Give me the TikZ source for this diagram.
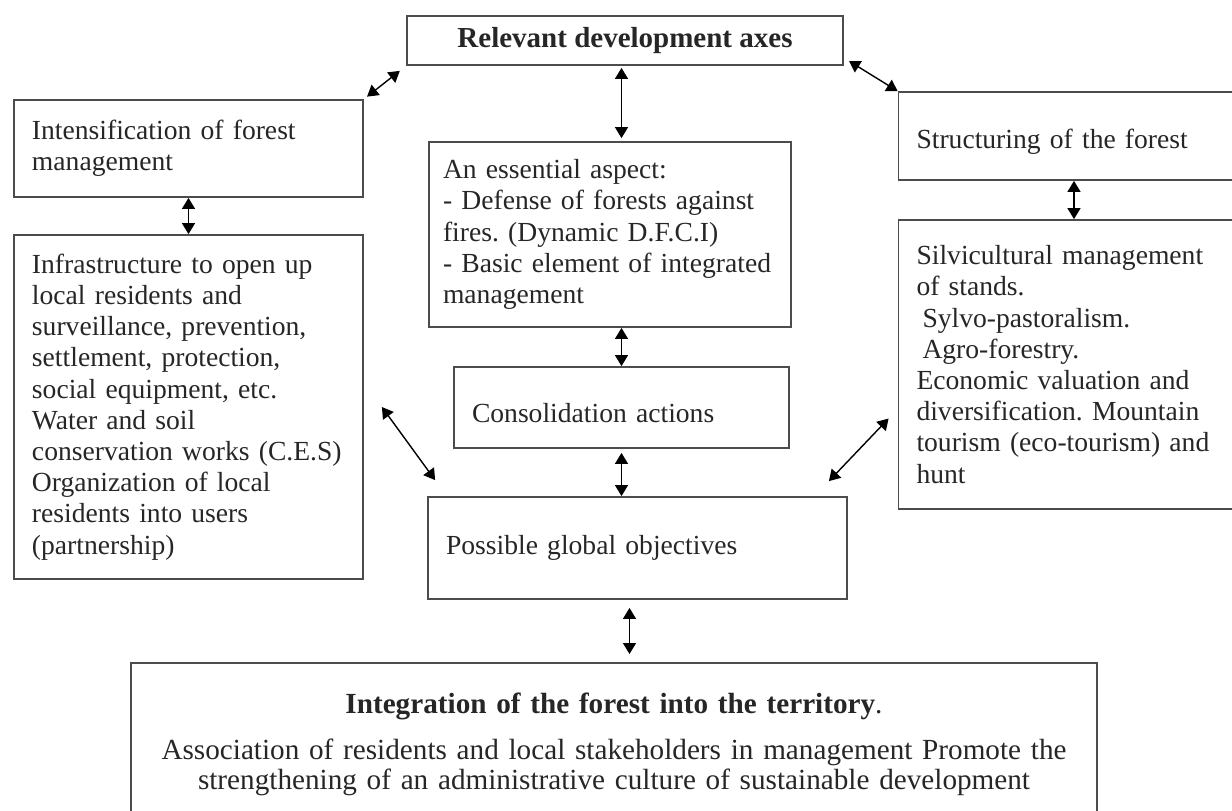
\documentclass[tikz,border=0pt]{standalone}
\usepackage{fontspec}
\setmainfont{Liberation Serif}
\usetikzlibrary{arrows.meta}
\frenchspacing

\begin{document}
\begin{tikzpicture}[
  x=0.5pt, y=-0.5pt,
  font=\fontsize{13.8}{15.6}\selectfont,
  box/.style ={draw=black!70, line width=0.9pt, align=left, inner xsep=9pt, inner ysep=0pt, text=black!85},
  arr/.style ={<->, >={Triangle[length=5.5pt,width=6.5pt]}, line width=0.7pt}
]
\useasboundingbox (0,0) rectangle (1232,810);
\clip (0,0) rectangle (1232,810);

% ---- top: development axes ----
\node[box, align=center, font=\fontsize{14.5}{15.6}\selectfont\bfseries, minimum width=218pt, minimum height=24.5pt] (axes) at (625,40.5)
  {Relevant development axes};

% ---- left column ----
\node[box, text width=156.5pt, minimum height=48.5pt] (inten) at (188.5,148.5)
  {Intensification of forest\\management};
\node[box, text width=156.5pt, minimum height=172pt] (infra) at (188.5,407)
  {Infrastructure to open up\\local residents and\\surveillance, prevention,\\settlement, protection,\\
   social equipment, etc.\\Water and soil\\conservation works (C.E.S)\\Organization of local\\
   residents into users\\(partnership)};

% ---- centre column ----
\node[box, inner xsep=7pt, text width=167pt, minimum height=92.5pt] (aspect) at (610,234.5)
  {An essential aspect:\\- Defense of forests against\\fires. (Dynamic D.F.C.I)\\
   - Basic element of integrated\\management};
\node[box, text width=149.5pt, minimum height=40.5pt] (consol) at (621.5,407.5)
  {\mbox{}\\Consolidation actions};
\node[box, text width=191.5pt, minimum height=51pt] (possib) at (637.5,548)
  {Possible global objectives};

% ---- right column ----
\node[box, text width=157.5pt, minimum height=44pt] (struct) at (1074,136)
  {\mbox{}\\Structuring of the forest};
\node[box, text width=157.5pt, minimum height=144.5pt] (silvi) at (1074,364.5)
  {Silvicultural management\\of stands.\\\hspace*{3pt}Sylvo-pastoralism.\\\hspace*{3pt}Agro-forestry.\\
   Economic valuation and\\diversification. Mountain\\tourism (eco-tourism) and\\hunt};

% ---- bottom: territory ----
\node[box, align=center, font=\fontsize{14.6}{15}\selectfont, text width=465pt, inner ysep=15pt, anchor=north] (integ) at (614,662)
  {\textbf{Integration of the forest into the territory}.\\[8pt]
   Association of residents and local stakeholders in management Promote the\\
   strengthening of an administrative culture of sustainable development};

% vertical links
\draw[arr, shorten <=1pt, shorten >=1.5pt] (axes.south -| consol) -- (aspect.north -| consol);
\draw[arr] (aspect.south -| consol) -- (consol.north);
\draw[arr, shorten <=2pt] (consol.south) -- (possib.north -| consol);
\draw[arr, shorten <=4pt, shorten >=4pt] ([xshift=-4pt]possib.south) -- ([xshift=-4pt]possib.south |- integ.north);
\draw[arr] (inten.south) -- (infra.north);
\draw[arr] (struct.south) -- (silvi.north);

% diagonal links
\draw[arr, shorten <=2pt, shorten >=4pt] (inten.north east) -- (axes.south west);
\draw[arr, shorten <=3pt] ([yshift=4pt]axes.south east) -- (struct.north west);
\draw[arr] ([xshift=9pt]infra.east) -- ([xshift=4pt,yshift=8pt]possib.north west);
\draw[arr] ([xshift=-9.5pt,yshift=7.5pt]possib.north east) -- ([xshift=-4.5pt,yshift=-27pt]silvi.west);

\end{tikzpicture}
\end{document}
